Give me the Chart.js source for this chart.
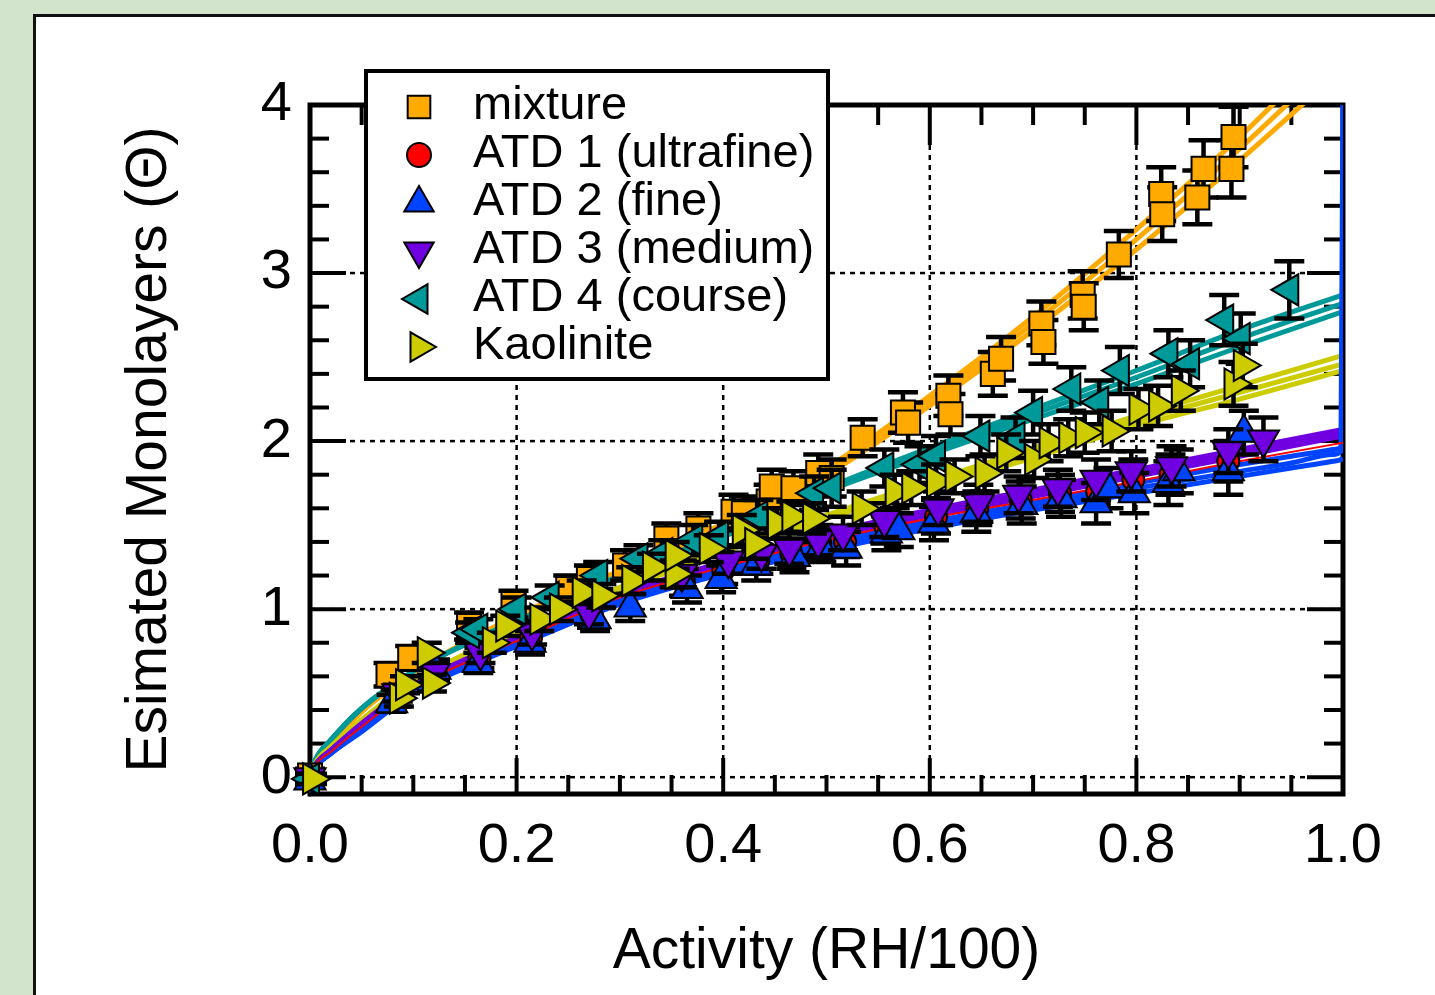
<!DOCTYPE html>
<html>
<head>
<meta charset="utf-8">
<script src="https://cdn.jsdelivr.net/npm/chart.js@4.4.1/dist/chart.umd.min.js"></script>
<style>
  html, body { margin: 0; padding: 0; }
  body { width: 1435px; height: 995px; overflow: hidden; background: #d2e4cb; position: relative; }
  #panel { position: absolute; left: 33px; top: 14px; width: 1500px; height: 1100px; background: #fff; border: 3px solid #111; }
  #chart { position: absolute; left: 0; top: 0; }
</style>
</head>
<body>
<div id="panel"></div>
<canvas id="chart" width="1435" height="995"></canvas>
<script>
// 坐标轴刻度
const X_TICKS = [0, 0.2, 0.4, 0.6, 0.8, 1.0];
const X_TICK_LABELS = ['0.0', '0.2', '0.4', '0.6', '0.8', '1.0'];
const Y_TICKS = [0, 1, 2, 3, 4];
const Y_TICK_LABELS = ['0', '1', '2', '3', '4'];

// mixture
const MIX_X = [0.000, 0.076, 0.097, 0.154, 0.197, 0.250, 0.270, 0.305, 0.345, 0.376, 0.410, 0.420, 0.444, 0.447, 0.468, 0.492, 0.505, 0.535, 0.574, 0.579, 0.618, 0.620, 0.661, 0.669, 0.708, 0.710, 0.748, 0.749, 0.783, 0.824, 0.825, 0.859, 0.865, 0.892, 0.894];
const MIX_Y = [0.01, 0.61, 0.71, 0.90, 1.03, 1.12, 1.18, 1.26, 1.42, 1.48, 1.58, 1.57, 1.64, 1.73, 1.72, 1.81, 1.78, 2.02, 2.17, 2.11, 2.27, 2.16, 2.40, 2.49, 2.70, 2.59, 2.87, 2.80, 3.11, 3.47, 3.35, 3.45, 3.62, 3.62, 3.81];
const MIX_ERR = [0.04, 0.07, 0.07, 0.08, 0.08, 0.08, 0.08, 0.09, 0.09, 0.09, 0.10, 0.10, 0.10, 0.10, 0.10, 0.11, 0.11, 0.11, 0.12, 0.12, 0.12, 0.12, 0.13, 0.13, 0.13, 0.13, 0.14, 0.14, 0.14, 0.16, 0.16, 0.16, 0.17, 0.17, 0.18];

// ATD 1 (ultrafine) — 大多被其他点挡住
const A1_X = [0.000, 0.083, 0.121, 0.164, 0.214, 0.273, 0.362, 0.400, 0.434, 0.466, 0.494, 0.518, 0.557, 0.606, 0.646, 0.688, 0.726, 0.762, 0.797, 0.833, 0.889];
const A1_Y = [0.00, 0.47, 0.63, 0.71, 0.83, 0.96, 1.16, 1.23, 1.29, 1.33, 1.39, 1.40, 1.49, 1.55, 1.60, 1.65, 1.69, 1.70, 1.77, 1.80, 1.88];
const A1_ERR = [0.03, 0.05, 0.06, 0.06, 0.07, 0.07, 0.08, 0.08, 0.08, 0.09, 0.09, 0.09, 0.10, 0.10, 0.10, 0.11, 0.11, 0.11, 0.12, 0.12, 0.12];

// ATD 2 (fine)
const A2_X = [0.000, 0.079, 0.121, 0.163, 0.213, 0.276, 0.310, 0.365, 0.398, 0.432, 0.469, 0.495, 0.519, 0.558, 0.570, 0.604, 0.645, 0.689, 0.727, 0.761, 0.773, 0.798, 0.831, 0.841, 0.889, 0.904];
const A2_Y = [-0.02, 0.44, 0.64, 0.68, 0.80, 0.94, 1.01, 1.12, 1.18, 1.26, 1.31, 1.37, 1.36, 1.45, 1.47, 1.51, 1.57, 1.62, 1.66, 1.63, 1.72, 1.69, 1.75, 1.82, 1.82, 2.05];
const A2_ERR = [0.03, 0.05, 0.06, 0.06, 0.07, 0.07, 0.08, 0.08, 0.08, 0.09, 0.09, 0.09, 0.10, 0.10, 0.10, 0.10, 0.11, 0.11, 0.11, 0.12, 0.12, 0.12, 0.13, 0.13, 0.14, 0.13];

// ATD 3 (medium)
const A3_X = [0.000, 0.085, 0.120, 0.165, 0.215, 0.270, 0.360, 0.405, 0.437, 0.464, 0.492, 0.516, 0.556, 0.608, 0.647, 0.686, 0.724, 0.761, 0.795, 0.834, 0.889, 0.923];
const A3_Y = [0.00, 0.50, 0.62, 0.74, 0.86, 0.98, 1.21, 1.29, 1.33, 1.36, 1.41, 1.45, 1.53, 1.60, 1.63, 1.68, 1.72, 1.77, 1.82, 1.85, 1.94, 2.01];
const A3_ERR = [0.03, 0.05, 0.06, 0.06, 0.07, 0.07, 0.08, 0.08, 0.09, 0.09, 0.09, 0.10, 0.10, 0.10, 0.11, 0.11, 0.11, 0.12, 0.12, 0.12, 0.13, 0.13];

// ATD 4 (course)
const A4_X = [0.000, 0.155, 0.163, 0.200, 0.232, 0.279, 0.318, 0.342, 0.371, 0.396, 0.434, 0.488, 0.505, 0.556, 0.590, 0.606, 0.649, 0.683, 0.700, 0.737, 0.764, 0.784, 0.831, 0.852, 0.885, 0.901, 0.948];
const A4_Y = [-0.01, 0.86, 0.88, 1.00, 1.07, 1.20, 1.30, 1.33, 1.41, 1.43, 1.55, 1.69, 1.72, 1.84, 1.86, 1.91, 2.03, 2.02, 2.17, 2.31, 2.23, 2.42, 2.52, 2.46, 2.72, 2.61, 2.90];
const A4_ERR = [0.03, 0.06, 0.06, 0.07, 0.07, 0.08, 0.08, 0.08, 0.09, 0.09, 0.10, 0.10, 0.11, 0.11, 0.11, 0.12, 0.12, 0.12, 0.13, 0.13, 0.13, 0.14, 0.14, 0.14, 0.15, 0.15, 0.17];

// Kaolinite
const KAO_X = [0.002, 0.086, 0.092, 0.113, 0.118, 0.176, 0.189, 0.222, 0.241, 0.263, 0.282, 0.311, 0.331, 0.353, 0.353, 0.386, 0.418, 0.430, 0.452, 0.466, 0.486, 0.534, 0.566, 0.582, 0.606, 0.624, 0.653, 0.674, 0.701, 0.715, 0.734, 0.750, 0.776, 0.802, 0.821, 0.843, 0.894, 0.903];
const KAO_Y = [-0.01, 0.47, 0.55, 0.74, 0.56, 0.80, 0.90, 0.94, 1.00, 1.10, 1.08, 1.17, 1.25, 1.21, 1.32, 1.36, 1.47, 1.39, 1.51, 1.55, 1.54, 1.60, 1.70, 1.72, 1.76, 1.79, 1.81, 1.93, 1.89, 1.99, 2.02, 2.05, 2.06, 2.19, 2.21, 2.30, 2.34, 2.45];
const KAO_ERR = [0.03, 0.05, 0.05, 0.06, 0.05, 0.06, 0.06, 0.07, 0.07, 0.07, 0.07, 0.08, 0.08, 0.08, 0.08, 0.08, 0.09, 0.09, 0.09, 0.09, 0.09, 0.10, 0.10, 0.10, 0.10, 0.10, 0.11, 0.11, 0.11, 0.11, 0.11, 0.12, 0.12, 0.12, 0.12, 0.12, 0.13, 0.13];

// 拟合曲线 (中线 + 上下限)
const FIT_X = [0, 0.005, 0.02, 0.05, 0.1, 0.15, 0.2, 0.3, 0.4, 0.5, 0.6, 0.7, 0.8, 0.9, 1.0];
const MIX_FIT = [0, 0.08, 0.19, 0.39, 0.62, 0.80, 0.95, 1.22, 1.50, 1.82, 2.24, 2.70, 3.20, 3.74, 4.32];
const MIX_FIT_HI = [0, 0.08, 0.19, 0.39, 0.62, 0.80, 0.96, 1.23, 1.51, 1.84, 2.27, 2.74, 3.26, 3.81, 4.42];
const MIX_FIT_LO = [0, 0.08, 0.19, 0.39, 0.62, 0.80, 0.94, 1.21, 1.49, 1.80, 2.21, 2.66, 3.14, 3.67, 4.22];
const A4_FIT = [0, 0.10, 0.22, 0.41, 0.63, 0.79, 0.93, 1.19, 1.44, 1.71, 1.94, 2.16, 2.38, 2.61, 2.82];
const A4_FIT_HI = [0, 0.10, 0.22, 0.41, 0.63, 0.79, 0.93, 1.20, 1.45, 1.72, 1.96, 2.19, 2.42, 2.66, 2.87];
const A4_FIT_LO = [0, 0.10, 0.22, 0.41, 0.63, 0.79, 0.93, 1.18, 1.43, 1.70, 1.92, 2.13, 2.34, 2.56, 2.77];
const KAO_FIT = [0, 0.08, 0.18, 0.34, 0.57, 0.73, 0.86, 1.12, 1.35, 1.55, 1.74, 1.93, 2.12, 2.29, 2.46];
const KAO_FIT_HI = [0, 0.08, 0.18, 0.34, 0.57, 0.73, 0.86, 1.13, 1.36, 1.56, 1.76, 1.96, 2.15, 2.33, 2.51];
const KAO_FIT_LO = [0, 0.08, 0.18, 0.34, 0.57, 0.73, 0.86, 1.11, 1.34, 1.54, 1.72, 1.90, 2.09, 2.25, 2.42];
const A3_FIT = [0, 0.07, 0.16, 0.31, 0.54, 0.69, 0.82, 1.08, 1.26, 1.43, 1.57, 1.69, 1.81, 1.93, 2.05];
const A3_FIT_HI = [0, 0.07, 0.16, 0.32, 0.55, 0.70, 0.83, 1.09, 1.28, 1.45, 1.59, 1.71, 1.83, 1.95, 2.07];
const A3_FIT_LO = [0, 0.07, 0.16, 0.30, 0.53, 0.68, 0.81, 1.07, 1.24, 1.41, 1.55, 1.67, 1.79, 1.91, 2.03];
const A1_FIT = [0, 0.07, 0.15, 0.30, 0.53, 0.68, 0.81, 1.07, 1.25, 1.41, 1.54, 1.65, 1.76, 1.88, 1.99];
const A2_FIT_X = [0, 0.005, 0.02, 0.05, 0.1, 0.15, 0.2, 0.3, 0.4, 0.5, 0.6, 0.7, 0.8, 0.9, 0.95, 0.99, 0.998, 1.0];
const A2_FIT = [0, 0.06, 0.14, 0.28, 0.51, 0.66, 0.79, 1.04, 1.22, 1.37, 1.50, 1.61, 1.72, 1.82, 1.87, 1.92, 1.94, 4.30];
const A2_FIT_HI = [0, 0.06, 0.14, 0.29, 0.52, 0.67, 0.80, 1.05, 1.23, 1.39, 1.52, 1.63, 1.75, 1.86, 1.91, 1.95, 1.96, 1.97];
const A2_FIT_LO = [0, 0.06, 0.14, 0.27, 0.50, 0.65, 0.78, 1.03, 1.21, 1.35, 1.48, 1.59, 1.69, 1.79, 1.84, 1.88, 1.89, 1.90];

// 颜色
const ORANGE = '#ffaa00';
const RED = '#ff0000';
const BLUE = '#0044ff';
const PURPLE = '#7000e0';
const TEAL = '#009999';
const YELLOW = '#cccc00';

// 图例顺序
const LEGEND = [
    { label: 'mixture', color: ORANGE, style: 'rect', rot: 0, r: 16 },
    { label: 'ATD 1 (ultrafine)', color: RED, style: 'circle', rot: 0, r: 12 },
    { label: 'ATD 2 (fine)', color: BLUE, style: 'triangle', rot: 0, r: 17 },
    { label: 'ATD 3 (medium)', color: PURPLE, style: 'triangle', rot: 180, r: 17 },
    { label: 'ATD 4 (course)', color: TEAL, style: 'triangle', rot: 270, r: 17 },
    { label: 'Kaolinite', color: YELLOW, style: 'triangle', rot: 90, r: 17 }
];

function pts(xs, ys) {
    return xs.map((x, i) => ({ x: x, y: ys[i] }));
}

function fitLine(xs, ys, color, width, order) {
    return {
        label: '',
        data: pts(xs, ys),
        showLine: true,
        borderColor: color,
        borderWidth: width,
        pointRadius: 0,
        pointHoverRadius: 0,
        cubicInterpolationMode: 'monotone',
        fill: false,
        order: order
    };
}

function markers(label, xs, ys, errs, color, style, rot, r, order) {
    return {
        label: label,
        data: pts(xs, ys),
        errors: errs,
        showLine: false,
        pointStyle: style,
        pointRotation: rot,
        pointRadius: r,
        pointHoverRadius: r,
        pointBackgroundColor: color,
        pointBorderColor: '#000',
        pointBorderWidth: 2,
        clip: false,
        order: order
    };
}

// 画一个图例标记
function drawMarker(ctx, m, cx, cy) {
    ctx.beginPath();
    if (m.style === 'rect') {
        const s = m.r * Math.SQRT1_2;
        ctx.rect(cx - s, cy - s, 2 * s, 2 * s);
    } else if (m.style === 'circle') {
        ctx.arc(cx, cy, m.r, 0, Math.PI * 2);
    } else {
        let rad = m.rot * Math.PI / 180;
        for (let k = 0; k < 3; k++) {
            const px = cx + Math.sin(rad) * m.r;
            const py = cy - Math.cos(rad) * m.r;
            if (k === 0) ctx.moveTo(px, py); else ctx.lineTo(px, py);
            rad += Math.PI * 2 / 3;
        }
        ctx.closePath();
    }
    ctx.fillStyle = m.color;
    ctx.fill();
    ctx.lineWidth = 2;
    ctx.strokeStyle = '#000';
    ctx.stroke();
}

function seg(ctx, x1, y1, x2, y2) {
    ctx.beginPath();
    ctx.moveTo(x1, y1);
    ctx.lineTo(x2, y2);
    ctx.stroke();
}

// 网格线、刻度、坐标框
const framePlugin = {
    id: 'frame',
    beforeDatasetsDraw(chart) {
        const { ctx, chartArea: a, scales: { x, y } } = chart;
        ctx.save();
        ctx.strokeStyle = '#000';

        ctx.lineWidth = 2.5;
        ctx.setLineDash([5, 5]);
        X_TICKS.filter(v => v > 0 && v < 1).forEach(v => {
            const px = x.getPixelForValue(v);
            seg(ctx, px, a.top, px, a.bottom);
        });
        Y_TICKS.filter(v => v < 4).forEach(v => {
            const py = y.getPixelForValue(v);
            seg(ctx, a.left, py, a.right, py);
        });
        ctx.setLineDash([]);

        ctx.lineWidth = 4;
        for (let i = 0; i <= 20; i++) {
            const px = x.getPixelForValue(i * 0.05);
            const major = i % 4 === 0;
            seg(ctx, px, a.bottom, px, a.bottom - (major ? 36 : 19));
            seg(ctx, px, a.top, px, a.top + (major ? 40 : 20));
        }
        for (let i = 0; i <= 20; i++) {
            const py = y.getPixelForValue(i * 0.2);
            const major = i % 5 === 0;
            seg(ctx, a.left, py, a.left + (major ? 36 : 19), py);
            seg(ctx, a.right, py, a.right - (major ? 36 : 19), py);
        }

        ctx.lineWidth = 5;
        ctx.strokeRect(a.left, a.top, a.right - a.left, a.bottom - a.top);
        ctx.restore();
    }
};

// 误差棒
const errorBarPlugin = {
    id: 'errorBars',
    beforeDatasetDraw(chart, args) {
        const ds = chart.data.datasets[args.index];
        if (!ds.errors) return;
        const { ctx, scales: { x, y } } = chart;
        ctx.save();
        ctx.strokeStyle = '#000';
        ctx.lineWidth = 4.5;
        ds.data.forEach((p, i) => {
            const e = ds.errors[i];
            if (e === undefined) return;
            const px = x.getPixelForValue(p.x);
            const top = y.getPixelForValue(p.y + e);
            const bot = y.getPixelForValue(p.y - e);
            ctx.beginPath();
            ctx.moveTo(px, top);
            ctx.lineTo(px, bot);
            ctx.moveTo(px - 15, top);
            ctx.lineTo(px + 15, top);
            ctx.moveTo(px - 15, bot);
            ctx.lineTo(px + 15, bot);
            ctx.stroke();
        });
        ctx.restore();
    }
};

// 图例框
const legendPlugin = {
    id: 'boxLegend',
    afterDatasetsDraw(chart) {
        const { ctx, chartArea: a } = chart;
        const left = a.left + 56;
        const top = a.top - 34;
        const w = 462;
        const h = 308;
        ctx.save();
        ctx.fillStyle = '#fff';
        ctx.fillRect(left, top, w, h);
        ctx.lineWidth = 4;
        ctx.strokeStyle = '#000';
        ctx.strokeRect(left, top, w, h);
        ctx.font = "47px 'Liberation Sans', Arial, sans-serif";
        ctx.textBaseline = 'alphabetic';
        ctx.textAlign = 'left';
        LEGEND.forEach((m, i) => {
            const base = top + 48 + i * 48;
            drawMarker(ctx, m, left + 53, base - 12);
            ctx.fillStyle = '#000';
            ctx.fillText(m.label, left + 107, base);
        });
        ctx.restore();
    }
};

Chart.defaults.font.family = "'Liberation Sans', Arial, sans-serif";
Chart.defaults.color = '#000';

const datasets = [
    fitLine(FIT_X, MIX_FIT_HI, ORANGE, 5, 120),
    fitLine(FIT_X, MIX_FIT, ORANGE, 5, 120),
    fitLine(FIT_X, MIX_FIT_LO, ORANGE, 5, 120),
    fitLine(FIT_X, A4_FIT_HI, TEAL, 5, 119),
    fitLine(FIT_X, A4_FIT, TEAL, 5, 119),
    fitLine(FIT_X, A4_FIT_LO, TEAL, 5, 119),
    fitLine(FIT_X, KAO_FIT_HI, YELLOW, 5, 118),
    fitLine(FIT_X, KAO_FIT, YELLOW, 5, 118),
    fitLine(FIT_X, KAO_FIT_LO, YELLOW, 5, 118),
    fitLine(FIT_X, A3_FIT_HI, PURPLE, 5, 117),
    fitLine(FIT_X, A3_FIT, PURPLE, 5, 117),
    fitLine(FIT_X, A3_FIT_LO, PURPLE, 5, 117),
    fitLine(A2_FIT_X, A2_FIT_HI, BLUE, 5, 116),
    fitLine(A2_FIT_X, A2_FIT, BLUE, 5, 116),
    fitLine(A2_FIT_X, A2_FIT_LO, BLUE, 5, 116),
    fitLine(FIT_X, A1_FIT, RED, 2, 115),
    markers('ATD 1 (ultrafine)', A1_X, A1_Y, A1_ERR, RED, 'circle', 0, 11, 20),
    markers('mixture', MIX_X, MIX_Y, MIX_ERR, ORANGE, 'rect', 0, 17, 19),
    markers('ATD 2 (fine)', A2_X, A2_Y, A2_ERR, BLUE, 'triangle', 0, 18, 18),
    markers('ATD 3 (medium)', A3_X, A3_Y, A3_ERR, PURPLE, 'triangle', 180, 18, 17),
    markers('ATD 4 (course)', A4_X, A4_Y, A4_ERR, TEAL, 'triangle', 270, 18, 16),
    markers('Kaolinite', KAO_X, KAO_Y, KAO_ERR, YELLOW, 'triangle', 90, 18, 15)
];

new Chart(document.getElementById('chart'), {
    type: 'scatter',
    data: { datasets: datasets },
    options: {
        responsive: false,
        animation: false,
        events: [],
        layout: { padding: { top: 105, right: 92, left: 0, bottom: 0 } },
        plugins: {
            legend: { display: false },
            tooltip: { enabled: false }
        },
        scales: {
            x: {
                type: 'linear',
                min: 0,
                max: 1,
                afterBuildTicks: s => { s.ticks = X_TICKS.map(v => ({ value: v })); },
                afterFit: s => { s.height = 201; },
                grid: { display: false, drawTicks: false },
                border: { display: false },
                ticks: {
                    padding: 19,
                    maxRotation: 0,
                    autoSkip: false,
                    font: { size: 56 },
                    color: '#000',
                    callback: (v, i) => X_TICK_LABELS[i]
                },
                title: {
                    display: true,
                    text: 'Activity (RH/100)',
                    font: { size: 57 },
                    color: '#000',
                    padding: { top: 0, bottom: 9 }
                }
            },
            y: {
                type: 'linear',
                min: -0.1,
                max: 4,
                afterBuildTicks: s => { s.ticks = Y_TICKS.map(v => ({ value: v })); },
                afterFit: s => { s.width = 310; },
                grid: { display: false, drawTicks: false },
                border: { display: false },
                ticks: {
                    padding: 18,
                    font: { size: 56 },
                    color: '#000',
                    callback: (v, i) => Y_TICK_LABELS[i]
                },
                title: {
                    display: true,
                    text: 'Esimated Monolayers (Θ)',
                    font: { size: 57 },
                    color: '#000',
                    padding: { top: 116, bottom: 0 }
                }
            }
        }
    },
    plugins: [framePlugin, errorBarPlugin, legendPlugin]
});
</script>
</body>
</html>
